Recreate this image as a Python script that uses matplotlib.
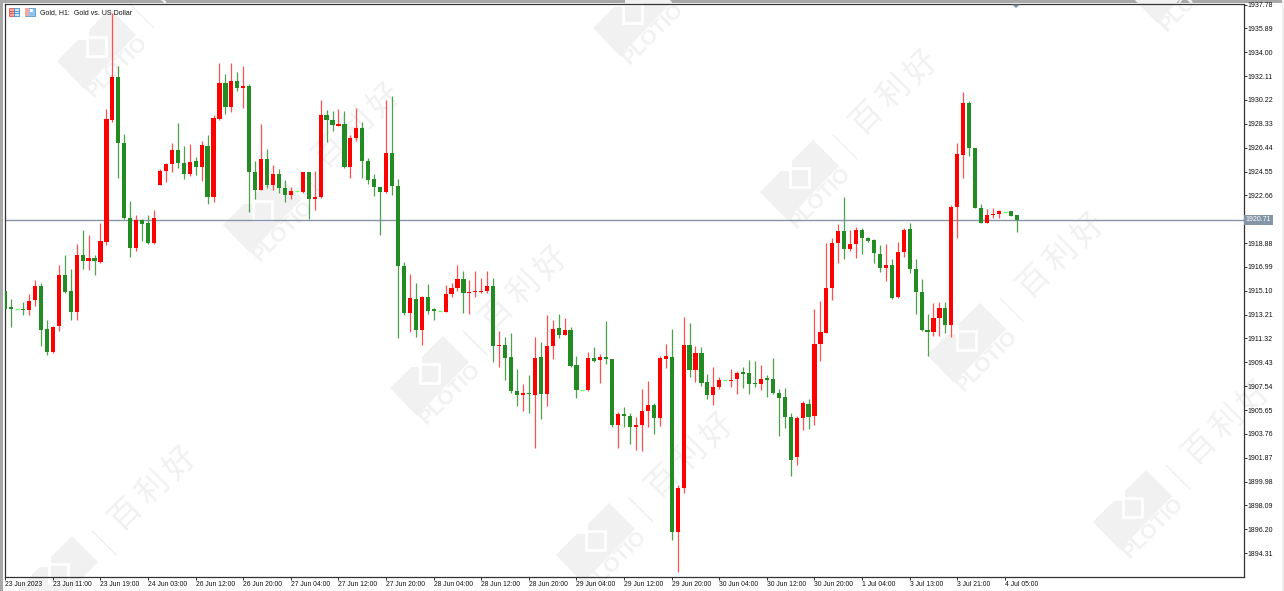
import numpy as np
import matplotlib
matplotlib.use("Agg")
import matplotlib.pyplot as plt
from matplotlib.patches import Polygon, Rectangle

# Gold H1 candles
opens = [1915.08,1913.79,1913.68,1913.63,1913.57,1914.34,1915.50,1912.04,1910.28,1912.28,
         1916.37,1915.05,1913.42,1917.90,1917.45,1917.72,1917.40,1918.98,1928.67,1932.05,
         1926.77,1920.88,1918.51,1920.67,1920.44,1918.91,1923.52,1924.58,1925.11,1926.27,
         1925.24,1924.32,1925.37,1924.90,1926.61,1922.57,1928.70,1931.57,1929.65,1931.73,
         1931.15,1931.33,1924.53,1923.10,1925.56,1923.52,1924.39,1923.26,1922.71,1923.02,
         1922.92,1924.50,1922.34,1922.55,1929.04,1928.62,1928.19,1928.35,1924.90,1927.24,
         1928.01,1925.40,1923.92,1923.31,1922.92,1926.03,1923.39,1917.03,1913.36,1914.42,
         1911.99,1914.63,1913.63,1913.50,1913.42,1914.81,1915.29,1916.06,1914.92,1915.00,
         1915.03,1915.05,1915.50,1910.70,1910.78,1909.85,1907.19,1906.82,1907.03,1906.82,
         1909.85,1906.92,1910.70,1912.15,1911.62,1912.02,1909.19,1907.27,1907.21,1909.77,
         1909.59,1909.85,1909.72,1904.47,1905.31,1905.21,1904.29,1904.47,1905.58,1906.03,
         1905.00,1909.70,1909.85,1896.00,1899.48,1910.78,1908.82,1910.14,1907.85,1906.87,
         1907.50,1908.01,1907.98,1908.09,1908.64,1908.61,1907.80,1907.69,1908.22,1908.09,
         1907.03,1906.66,1905.13,1901.94,1905.02,1906.16,1905.16,1910.88,1911.78,1915.29,
         1918.88,1919.86,1918.43,1918.80,1919.91,1919.27,1919.14,1918.01,1916.93,1917.14,
         1914.58,1918.14,1919.96,1916.79,1914.97,1912.02,1911.81,1912.94,1913.73,1912.39,
         1921.70,1925.85,1929.96,1926.45,1921.68,1920.46,1921.10,1921.17,1921.36,1921.39,
         1921.07]
closes = [1913.68,1913.63,1913.68,1913.57,1914.31,1915.50,1911.99,1910.28,1912.25,1916.37,
          1914.97,1913.42,1917.90,1917.45,1917.72,1917.45,1919.01,1928.72,1932.05,1926.77,
          1920.86,1918.51,1920.67,1920.38,1918.91,1920.83,1924.61,1925.16,1926.27,1925.21,
          1924.32,1925.32,1924.90,1926.66,1922.57,1928.78,1931.57,1929.65,1931.73,1931.15,
          1931.33,1924.53,1923.10,1925.56,1923.52,1924.39,1923.21,1922.71,1922.97,1923.02,
          1924.55,1922.34,1922.55,1929.01,1928.64,1928.22,1928.35,1924.87,1927.24,1928.01,
          1925.42,1923.87,1923.29,1922.92,1926.03,1923.39,1917.06,1913.36,1914.50,1911.99,
          1914.63,1913.52,1913.47,1913.50,1914.84,1915.29,1916.00,1914.92,1915.03,1915.05,
          1915.11,1915.50,1910.70,1910.78,1909.80,1907.14,1906.82,1907.03,1906.90,1909.77,
          1906.92,1910.72,1912.10,1911.57,1912.02,1909.11,1907.24,1907.27,1909.80,1909.51,
          1909.85,1909.72,1904.47,1905.31,1905.18,1904.29,1904.50,1905.60,1906.03,1905.00,
          1909.80,1909.91,1896.00,1899.48,1910.83,1908.82,1910.14,1907.80,1906.87,1907.50,
          1908.01,1908.01,1908.06,1908.61,1908.51,1907.74,1907.69,1908.14,1908.03,1907.00,
          1906.63,1905.10,1901.70,1905.02,1906.19,1905.10,1910.91,1911.83,1915.32,1918.91,
          1919.86,1918.38,1918.83,1919.91,1919.27,1919.04,1918.06,1916.93,1917.14,1914.55,
          1918.14,1919.91,1916.79,1914.97,1911.96,1911.86,1912.97,1913.73,1912.41,1921.76,
          1925.90,1929.96,1926.40,1921.65,1920.46,1921.07,1921.20,1921.39,1921.36,1921.04,
          1920.71]
highs = [1915.08,1914.42,1913.68,1914.21,1914.87,1915.92,1915.69,1912.78,1912.31,1917.11,
         1917.90,1916.79,1918.77,1919.91,1919.49,1917.90,1920.49,1929.51,1937.11,1932.94,
         1927.56,1922.20,1921.07,1920.75,1921.07,1921.49,1924.71,1925.24,1926.82,1928.41,
         1926.56,1926.74,1925.71,1926.98,1927.48,1928.99,1933.16,1932.26,1933.16,1932.47,
         1932.94,1931.52,1925.40,1928.35,1926.37,1925.08,1924.71,1923.84,1923.34,1923.02,
         1924.55,1924.55,1924.61,1930.25,1929.46,1929.38,1929.51,1929.33,1927.46,1929.57,
         1928.51,1925.61,1924.39,1923.34,1930.25,1930.52,1923.92,1917.37,1916.45,1915.74,
         1914.68,1915.61,1913.73,1913.50,1915.53,1915.69,1917.11,1916.69,1915.92,1916.64,
         1916.08,1916.64,1916.08,1911.91,1911.46,1911.78,1908.93,1907.69,1908.40,1911.41,
         1911.01,1913.15,1912.76,1913.23,1912.97,1912.20,1909.91,1907.27,1910.22,1910.62,
         1910.09,1912.68,1909.72,1905.50,1905.87,1905.45,1905.13,1907.35,1907.95,1906.19,
         1909.93,1910.86,1912.04,1899.69,1912.99,1912.52,1910.72,1910.62,1908.51,1909.09,
         1908.27,1908.01,1908.93,1908.77,1909.09,1909.62,1909.51,1909.19,1908.43,1909.80,
         1907.29,1907.37,1905.45,1905.18,1906.34,1906.50,1913.63,1914.31,1918.85,1919.27,
         1920.41,1922.57,1919.88,1920.17,1920.09,1919.33,1919.17,1918.69,1918.80,1917.64,
         1918.96,1920.07,1920.44,1917.59,1916.06,1913.26,1914.10,1914.23,1914.21,1921.86,
         1926.82,1930.86,1930.15,1926.45,1921.97,1921.60,1921.68,1921.54,1921.36,1921.41,
         1921.10]
lows = [1913.68,1912.25,1913.68,1913.15,1913.21,1913.89,1910.72,1909.99,1910.14,1911.91,
        1914.89,1912.78,1912.78,1916.85,1916.74,1916.37,1917.32,1918.69,1928.51,1924.03,
        1920.75,1917.74,1918.27,1919.04,1918.77,1918.77,1923.50,1923.71,1924.50,1924.84,
        1923.97,1924.18,1924.26,1923.79,1921.97,1922.15,1928.67,1929.09,1929.25,1930.91,
        1929.62,1921.33,1922.34,1923.08,1923.26,1923.08,1922.86,1922.15,1922.39,1923.02,
        1922.86,1920.81,1921.49,1922.44,1926.88,1927.75,1928.14,1924.84,1924.03,1926.93,
        1924.03,1923.60,1922.60,1919.54,1922.86,1922.65,1911.38,1913.15,1911.86,1911.44,
        1910.80,1913.23,1912.78,1913.50,1913.39,1914.58,1915.05,1913.31,1913.26,1914.63,
        1914.89,1914.89,1909.43,1909.04,1908.03,1907.03,1905.97,1905.55,1905.39,1902.68,
        1904.97,1905.97,1909.67,1911.33,1911.57,1909.06,1906.61,1907.27,1907.14,1909.43,
        1907.77,1909.27,1904.29,1902.62,1904.31,1902.97,1902.46,1902.41,1904.29,1903.76,
        1904.39,1908.98,1895.37,1892.83,1899.11,1908.27,1907.90,1907.56,1906.50,1906.03,
        1907.29,1908.01,1907.45,1906.90,1907.37,1906.92,1907.48,1907.27,1906.66,1906.95,
        1903.57,1904.26,1900.41,1901.30,1904.07,1904.13,1904.44,1909.56,1911.73,1914.37,
        1917.27,1917.59,1918.25,1917.67,1917.98,1918.96,1917.32,1916.58,1915.84,1914.42,
        1914.52,1917.74,1916.48,1913.26,1911.89,1909.93,1911.49,1911.49,1911.73,1911.44,
        1919.27,1924.03,1925.77,1921.65,1920.44,1920.44,1920.86,1920.86,1921.36,1920.99,
        1919.75]

price_ticks = [1937.78,1935.89,1934.00,1932.11,1930.22,1928.33,1926.44,1924.55,1922.66,1920.77,
               1918.88,1916.99,1915.10,1913.21,1911.32,1909.43,1907.54,1905.65,1903.76,1901.87,
               1899.98,1898.09,1896.20,1894.31]
time_labels = ["23 Jun 2023","23 Jun 11:00","23 Jun 19:00","24 Jun 03:00","26 Jun 12:00",
               "26 Jun 20:00","27 Jun 04:00","27 Jun 12:00","27 Jun 20:00","28 Jun 04:00",
               "28 Jun 12:00","28 Jun 20:00","29 Jun 04:00","29 Jun 12:00","29 Jun 20:00",
               "30 Jun 04:00","30 Jun 12:00","30 Jun 20:00","1 Jul 04:00","3 Jul 13:00",
               "3 Jul 21:00","4 Jul 05:00"]
last_price = 1920.71

# left corner of each watermark logo, in image pixels
logo_spots = [(57,61),(593,28),(1130,-5),(223,225),(760,192),(390,388),(927,355),(19,588),(556,555),(1093,522)]

W, H = 1284, 591
WM = "#f1f1f1"
plt.rcParams['font.family'] = ['Liberation Sans', 'DejaVu Sans']

fig = plt.figure(figsize=(W/100, H/100), dpi=100, facecolor="white")

# background layer in image pixels, for the window frame and the watermark
bg = fig.add_axes([0, 0, 1, 1])
bg.set_xlim(0, W)
bg.set_ylim(H, 0)
bg.axis("off")

bg.add_patch(Rectangle((0, 0), 3, H, color="#a8a8a8", lw=0))
bg.add_patch(Rectangle((0, 0), W, 3, color="#a8a8a8", lw=0))
bg.add_patch(Rectangle((1282, 0), 2, H, color="#f0f0f0", lw=0))

for (lx, ly) in logo_spots:
    shape = [(0,0),(21,-21),(32,-21),(32,-31),(53,-52),(79,-26),(27,28)]
    bg.add_patch(Polygon([(lx+a, ly+b) for a, b in shape], color=WM, lw=0))
    bg.add_patch(Rectangle((lx+30, ly-24), 19, 19, fc=WM, ec="white", lw=2))
    bg.plot([lx+73, lx+97], [ly-57, ly-33], color="#ececec", lw=0.8)
    if ly < H - 10:
        bg.text(lx+60, ly+6, "PLOTIO", rotation=45, fontsize=15, fontweight="bold", color=WM,
                ha="center", va="center", rotation_mode="anchor", clip_on=True)
    for k, ch in enumerate("百利好"):
        gy = ly - 75 - 25*k
        if gy > -16:
            bg.text(lx+107+27*k, gy, ch, rotation=45, fontsize=23, color=WM,
                    family=['Noto Sans CJK SC', 'DejaVu Sans'],
                    ha="center", va="center", rotation_mode="anchor", clip_on=True)

# main chart
ax = fig.add_axes([4.5/W, 1-577/H, 1239/W, 572.7/H])
ax.patch.set_alpha(0)
ax.set_xlim(-0.13, 208.1)
ax.set_ylim(1892.42, 1937.80)

x = np.arange(len(opens))
o = np.array(opens)
c = np.array(closes)
up = c > o
down = c < o
flat = c == o

ax.axhline(last_price, color="#8496a8", lw=1, zorder=1)
ax.vlines(x[up], np.array(lows)[up], np.array(highs)[up], color="#ff5050", lw=0.9, zorder=2)
ax.vlines(x[down], np.array(lows)[down], np.array(highs)[down], color="#4ea24e", lw=0.9, zorder=2)
ax.bar(x[up], (c-o)[up], bottom=o[up], width=0.7, color="#ff0000", zorder=3)
ax.bar(x[down], (c-o)[down], bottom=o[down], width=0.7, color="#228b22", zorder=3)
ax.hlines(o[flat], x[flat]-0.33, x[flat]+0.33, color="#66ff66", lw=1, zorder=3)

ax.yaxis.tick_right()
ax.set_yticks(price_ticks)
ax.set_yticklabels(["" if p == 1920.77 else f"{p:.2f}" for p in price_ticks], fontsize=5, color="#111111")
ax.set_xticks(np.arange(len(time_labels))*8)
ax.set_xticklabels(time_labels, fontsize=4.9, color="#111111", ha="left")
ax.tick_params(axis="y", length=2.2, width=0.7, pad=0.8, color="#333333")
ax.tick_params(axis="x", length=2.2, width=0.7, pad=0.6, color="#333333")
for sp in ax.spines.values():
    sp.set_linewidth(0.9)
    sp.set_color("#333333")

ax.text(1.0016, last_price, f"{last_price:.2f}", transform=ax.get_yaxis_transform(), fontsize=5,
        color="white", va="center", ha="left", clip_on=False,
        bbox=dict(boxstyle="square,pad=0.25", fc="#8496a8", ec="none"))

# header icons, symbol text and the shift marker
top = fig.add_axes([0, 0, 1, 1])
top.set_xlim(0, W)
top.set_ylim(H, 0)
top.axis("off")
top.add_patch(Rectangle((9, 8), 5, 8, fc="#f8a8a0", ec="#e05050", lw=0.6))
top.add_patch(Rectangle((14, 8), 5, 8, fc="#cfe4f6", ec="#3f8fd0", lw=0.6))
top.plot([9, 14], [10.6, 10.6], color="#e05050", lw=0.6)
top.plot([9, 14], [13.3, 13.3], color="#e05050", lw=0.6)
top.plot([14, 19], [10.6, 10.6], color="#3f8fd0", lw=0.6)
top.plot([14, 19], [13.3, 13.3], color="#3f8fd0", lw=0.6)
top.add_patch(Rectangle((25, 8), 10, 8, fc="#8cc4ee", ec="#5a9ad0", lw=0.6))
top.add_patch(Rectangle((25, 8), 4, 8, fc="#f8a8a0", ec="none"))
top.add_patch(Rectangle((30, 9), 2.5, 3, fc="white", ec="none"))
top.text(40, 12.2, "Gold, H1:  Gold vs. US Dollar", fontsize=5, color="#111111", va="center", ha="left")
top.add_patch(Polygon([(1012.5, 4.5), (1019.5, 4.5), (1016, 8)], color="#76889a", lw=0))

fig.savefig("out.png", dpi=100)
